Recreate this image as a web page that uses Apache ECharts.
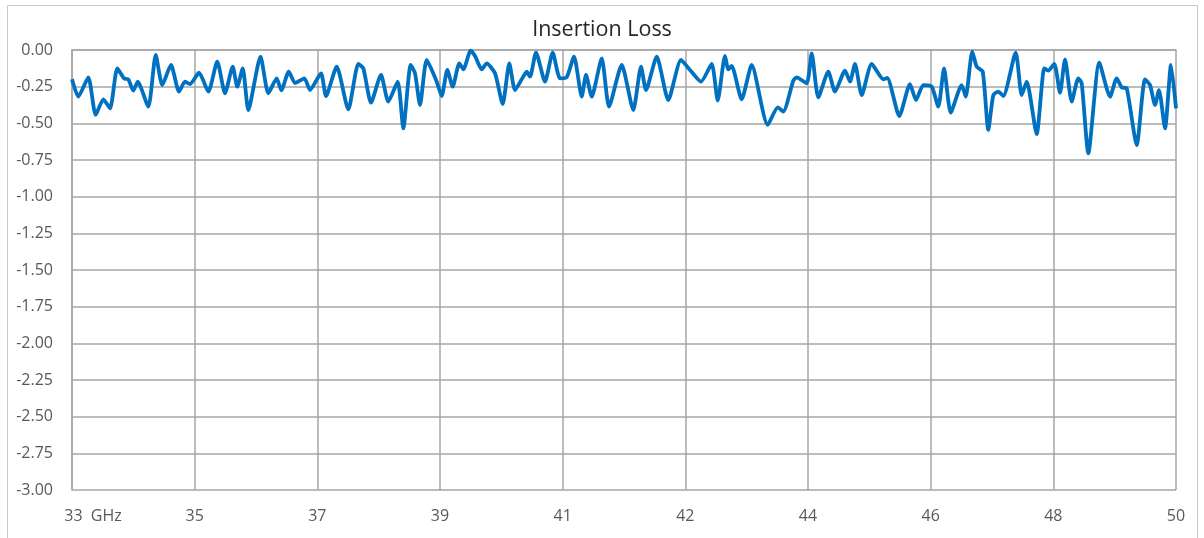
<!DOCTYPE html>
<html>
<head>
<meta charset="utf-8">
<script src="https://cdn.jsdelivr.net/npm/echarts@6/dist/echarts.min.js"></script>
<style>
html,body{margin:0;padding:0;background:#fff;}
#c{width:1204px;height:538px;}
</style>
</head>
<body>
<div id="c"></div>
<script>
// ---- data ----
const chartTitle = 'Insertion Loss';
const xTickLabels = ['33  GHz', '35', '37', '39', '41', '42', '44', '46', '48', '50'];
const freqStartGHz = 33;
const freqEndGHz = 50;
const yMin = -3, yMax = 0, yStep = 0.25;

const freqGHz = [
  33.000, 33.097, 33.251, 33.365, 33.482, 33.585, 33.698, 33.801, 33.867, 33.944,
  34.012, 34.175, 34.289, 34.390, 34.524, 34.648, 34.740, 34.817, 34.956, 35.099,
  35.237, 35.356, 35.475, 35.545, 35.629, 35.715, 35.903, 36.023, 36.152, 36.223,
  36.338, 36.434, 36.577, 36.665, 36.834, 36.911, 37.076, 37.255, 37.409, 37.486,
  37.604, 37.758, 37.871, 38.015, 38.102, 38.215, 38.282, 38.359, 38.462, 38.616,
  38.693, 38.779, 38.862, 38.964, 39.026, 39.139, 39.206, 39.309, 39.386, 39.514,
  39.632, 39.734, 39.822, 39.925, 40.002, 40.053, 40.145, 40.284, 40.402, 40.515,
  40.618, 40.730, 40.849, 40.915, 41.003, 41.157, 41.269, 41.465, 41.643, 41.762,
  41.839, 42.004, 42.182, 42.378, 42.516, 42.686, 42.850, 42.943, 43.055, 43.106,
  43.158, 43.312, 43.466, 43.713, 43.867, 43.953, 44.107, 44.160, 44.313, 44.390,
  44.492, 44.646, 44.749, 44.903, 44.980, 45.057, 45.160, 45.314, 45.493, 45.554,
  45.739, 45.904, 45.996, 46.109, 46.238, 46.340, 46.428, 46.531, 46.700, 46.762,
  46.863, 46.931, 47.024, 47.110, 47.187, 47.264, 47.341, 47.532, 47.624, 47.701,
  47.855, 47.972, 48.034, 48.126, 48.214, 48.291, 48.394, 48.496, 48.548, 48.650,
  48.819, 48.984, 49.087, 49.164, 49.241, 49.395, 49.523, 49.600, 49.677, 49.738,
  49.831, 49.923, 50.000
];

const lossDb = [
  -0.200, -0.318, -0.186, -0.443, -0.336, -0.398, -0.125, -0.193, -0.200, -0.277,
  -0.216, -0.386, -0.034, -0.239, -0.102, -0.284, -0.216, -0.232, -0.155, -0.284,
  -0.080, -0.295, -0.114, -0.250, -0.125, -0.409, -0.045, -0.295, -0.193, -0.275,
  -0.148, -0.225, -0.193, -0.273, -0.159, -0.314, -0.114, -0.405, -0.095, -0.125,
  -0.359, -0.170, -0.352, -0.216, -0.534, -0.102, -0.159, -0.375, -0.068, -0.216,
  -0.314, -0.136, -0.250, -0.091, -0.132, -0.005, -0.041, -0.132, -0.091, -0.159,
  -0.368, -0.091, -0.273, -0.200, -0.148, -0.182, -0.018, -0.216, -0.018, -0.193,
  -0.186, -0.045, -0.318, -0.170, -0.318, -0.057, -0.386, -0.102, -0.409, -0.114,
  -0.273, -0.045, -0.341, -0.068, -0.136, -0.216, -0.095, -0.345, -0.041, -0.132,
  -0.109, -0.336, -0.102, -0.511, -0.391, -0.420, -0.209, -0.186, -0.227, -0.023,
  -0.323, -0.148, -0.284, -0.141, -0.216, -0.095, -0.307, -0.095, -0.200, -0.190,
  -0.450, -0.232, -0.341, -0.239, -0.250, -0.386, -0.125, -0.427, -0.239, -0.318,
  -0.011, -0.114, -0.148, -0.545, -0.307, -0.284, -0.314, -0.018, -0.307, -0.216,
  -0.573, -0.125, -0.141, -0.095, -0.291, -0.064, -0.352, -0.193, -0.227, -0.705,
  -0.086, -0.318, -0.193, -0.255, -0.261, -0.648, -0.200, -0.239, -0.375, -0.273,
  -0.534, -0.102, -0.398
];

// ---- build chart ----
const labelSteps = xTickLabels.length - 1;
const ghzPerStep = (freqEndGHz - freqStartGHz) / labelSteps;
const seriesData = freqGHz.map((f, i) => [(f - freqStartGHz) / ghzPerStep, lossDb[i]]);

const gridColor = '#a6a6a6';
const textColor = '#595959';
const fontFamily = '"Open Sans", "Noto Sans", sans-serif';

const chart = echarts.init(document.getElementById('c'), null, { renderer: 'canvas' });
chart.setOption({
  animation: false,
  backgroundColor: '#ffffff',
  title: {
    text: chartTitle,
    left: 'center',
    top: 14,
    textStyle: { fontFamily: fontFamily, fontSize: 21.5, fontWeight: 'normal', color: '#262626' }
  },
  graphic: [{
    type: 'rect',
    silent: true,
    shape: { x: 7.5, y: 5.5, width: 1190, height: 560 },
    style: { fill: 'none', stroke: '#c8c8c8', lineWidth: 1 }
  }],
  grid: { left: 72, right: 28, top: 50, bottom: 48, containLabel: false },
  xAxis: {
    type: 'value',
    min: 0,
    max: labelSteps,
    interval: 1,
    axisLine: { show: true, lineStyle: { color: gridColor, width: 1.5 } },
    axisTick: { show: false },
    splitLine: { show: true, lineStyle: { color: gridColor, width: 1.5 } },
    axisLabel: {
      margin: 18,
      fontFamily: fontFamily,
      fontSize: 16,
      color: textColor,
      formatter: function (v) {
        const idx = Math.round(v);
        return idx === 0 ? '{first|' + xTickLabels[0] + '}' : xTickLabels[idx];
      },
      rich: {
        first: { fontFamily: fontFamily, fontSize: 16, color: textColor, padding: [0, 0, 0, 42] }
      }
    }
  },
  yAxis: {
    type: 'value',
    min: yMin,
    max: yMax,
    interval: yStep,
    axisLine: { show: true, lineStyle: { color: gridColor, width: 1.5 } },
    axisTick: { show: false },
    splitLine: { show: true, lineStyle: { color: gridColor, width: 1.5 } },
    axisLabel: {
      margin: 19,
      fontFamily: fontFamily,
      fontSize: 16,
      color: textColor,
      formatter: function (v) { return v.toFixed(2); }
    }
  },
  series: [{
    type: 'line',
    data: seriesData,
    showSymbol: false,
    smooth: 0.2,
    lineStyle: { color: '#0070C0', width: 3.8 },
    itemStyle: { color: '#0070C0' }
  }]
});
</script>
</body>
</html>
